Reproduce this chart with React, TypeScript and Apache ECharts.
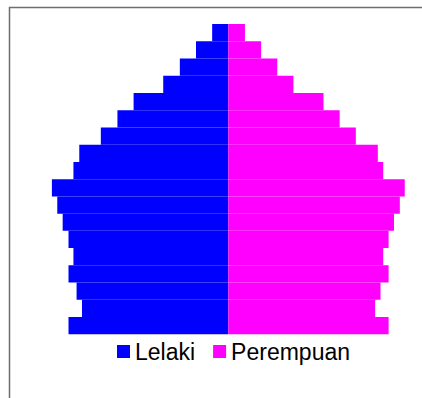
import React, { useEffect, useRef } from "react";
import * as echarts from "echarts";

const ageGroups = ["0-4","5-9","10-14","15-19","20-24","25-29","30-34","35-39","40-44","45-49","50-54","55-59","60-64","65-69","70-74","75-79","80-84","85+"];
const male = [3.56, 3.26, 3.38, 3.56, 3.45, 3.56, 3.69, 3.81, 3.93, 3.45, 3.32, 2.84, 2.47, 2.11, 1.45, 1.08, 0.72, 0.36];
const female = [3.57, 3.27, 3.39, 3.57, 3.45, 3.57, 3.69, 3.82, 3.93, 3.45, 3.33, 2.84, 2.48, 2.12, 1.45, 1.09, 0.73, 0.37];
const seriesNames = ["Lelaki", "Perempuan"];

export default function App() {
  const ref = useRef<HTMLDivElement>(null);
  useEffect(() => {
    if (!ref.current) return;
    const chart = echarts.init(ref.current, undefined, { renderer: "svg" });
    chart.setOption({
      animation: false,
      backgroundColor: "#ffffff",
      graphic: [
        {
          type: "rect",
          shape: { x: 9.5, y: 7.5, width: 600, height: 600 },
          style: { fill: "none", stroke: "#6e6e6e", lineWidth: 1.5 },
          z: 100,
        },
      ],
      legend: {
        data: seriesNames,
        left: 117,
        top: 340,
        padding: 0,
        icon: "rect",
        itemWidth: 13,
        itemHeight: 13,
        itemGap: 18,
        textStyle: { fontFamily: "Liberation Sans, Arial, sans-serif", fontSize: 23, color: "#000" },
      },
      grid: { left: 26.3, right: 0, top: 24, height: 310.3 },
      xAxis: {
        type: "value",
        min: -4.5,
        max: 4.314,
        show: false,
      },
      yAxis: {
        type: "category",
        data: ageGroups,
        show: false,
      },
      series: [
        {
          name: seriesNames[0],
          type: "bar",
          stack: "pop",
          data: male.map((v) => -v),
          barCategoryGap: 0,
          itemStyle: { color: "#0000ff" },
        },
        {
          name: seriesNames[1],
          type: "bar",
          stack: "pop",
          data: female,
          barCategoryGap: 0,
          itemStyle: { color: "#ff00ff" },
        },
      ],
    });
    return () => chart.dispose();
  }, []);
  return (
    <div
      ref={ref}
      style={{ position: "absolute", left: 0, top: 0, width: 422, height: 398 }}
    />
  );
}
